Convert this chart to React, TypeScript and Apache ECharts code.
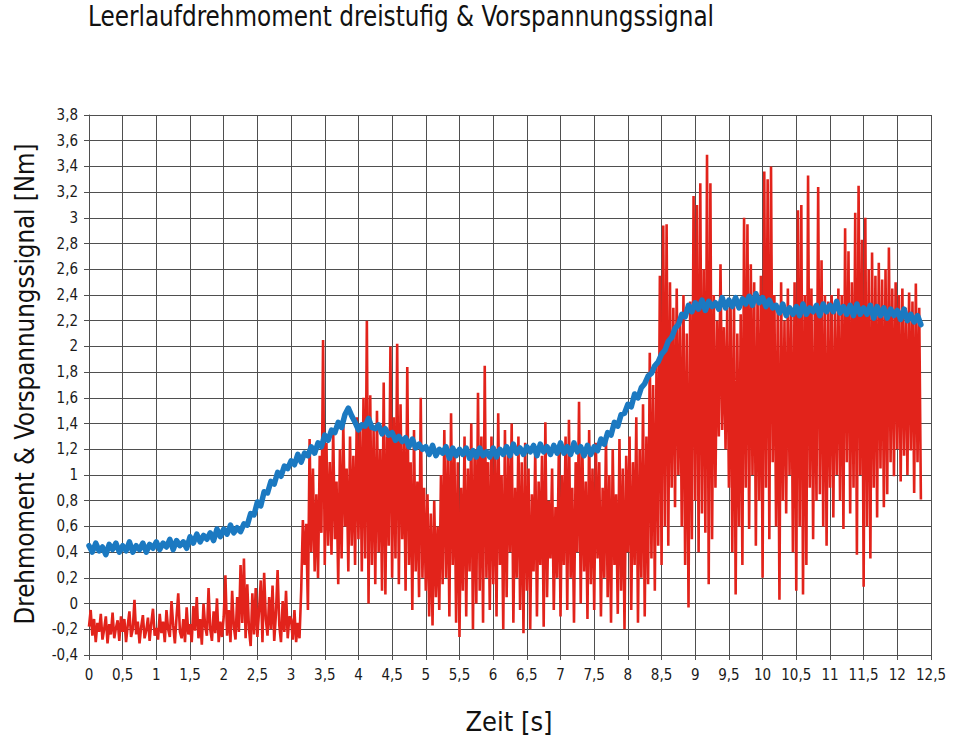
import React, { useEffect, useRef } from "react";
import * as echarts from "echarts";

const TITLE = "Leerlaufdrehmoment dreistufig & Vorspannungssignal";
const Y_NAME = "Drehmoment & Vorspannungssignal [Nm]";
const X_NAME = "Zeit [s]";

// sample spacing of the two recorded signals (seconds)
const RED_DT = 0.025;
const BLUE_DT = 0.05;

// Drehmoment (red), one value every 0.025 s
const redValues = [
  -0.18,-0.05,-0.25,-0.12,-0.3,-0.15,-0.22,-0.08,-0.28,-0.2,-0.1,-0.31,-0.16,-0.24,-0.07,-0.27,-0.19,-0.13,-0.29,-0.1,
  -0.22,-0.12,-0.3,-0.17,-0.06,-0.26,-0.2,0.03,-0.24,-0.14,-0.31,-0.18,-0.09,-0.27,-0.21,-0.11,-0.29,-0.15,-0.04,-0.25,
  -0.19,-0.28,-0.08,-0.23,-0.14,-0.3,-0.05,-0.2,-0.26,0.02,-0.17,-0.31,-0.1,0.08,-0.22,-0.27,-0.12,-0.3,-0.03,-0.24,
  -0.16,-0.3,-0.02,-0.21,0.05,-0.27,-0.12,-0.32,0.0,-0.18,-0.25,0.12,-0.2,-0.29,-0.06,-0.23,0.04,-0.3,-0.14,-0.26,
  -0.1,0.22,-0.25,-0.05,-0.3,0.1,-0.18,-0.28,0.05,-0.22,0.3,-0.15,0.35,-0.27,0.15,-0.2,-0.33,0.08,-0.24,0.12,
  -0.26,-0.05,0.18,-0.3,0.24,-0.12,-0.25,0.05,-0.2,0.14,-0.29,-0.08,0.26,-0.17,-0.3,0.02,-0.22,0.1,-0.27,-0.1,
  -0.12,-0.28,-0.05,-0.3,-0.15,-0.27,0.1,0.65,0.3,0.62,-0.05,1.28,0.4,1.05,0.25,0.85,0.2,1.15,0.55,2.05,
  0.3,1.25,0.45,1.1,0.38,1.35,0.5,0.95,0.15,1.2,0.35,1.4,0.6,1.05,0.25,1.3,0.45,1.15,0.3,1.45,
  0.5,1.4,0.25,1.6,0.35,2.2,0.0,1.62,0.3,1.35,0.15,1.5,0.4,1.2,0.1,1.72,0.07,1.3,0.45,2.0,
  0.2,1.45,0.35,2.02,0.15,1.55,0.5,1.25,0.1,1.84,0.3,1.1,-0.05,1.35,0.25,0.95,0.05,1.6,0.2,0.9,
  0.1,0.85,-0.1,0.7,-0.17,0.8,0.05,0.6,-0.05,1.0,0.15,1.35,0.2,1.15,-0.1,1.48,0.3,1.2,-0.15,1.1,
  -0.26,0.9,0.1,1.3,-0.1,1.05,0.25,1.4,-0.2,1.2,0.0,1.64,0.1,1.3,-0.15,1.85,0.2,1.1,-0.05,1.3,
  0.15,1.2,-0.1,1.48,0.3,1.0,-0.2,1.35,0.05,1.15,0.4,1.4,-0.15,0.9,0.2,1.3,-0.05,1.1,-0.23,1.25,
  0.1,1.05,-0.2,0.85,0.25,1.2,-0.1,0.95,0.3,1.15,-0.18,1.41,0.05,0.8,0.35,1.05,-0.05,0.75,0.2,1.2,
  -0.1,1.0,0.3,1.3,-0.05,1.43,0.2,0.9,-0.15,1.1,0.4,1.57,0.0,1.2,0.25,0.95,-0.12,1.35,0.15,1.05,
  -0.05,1.25,0.35,1.1,-0.1,0.9,0.2,1.3,0.05,1.0,-0.15,1.2,0.3,0.85,-0.08,1.28,0.1,1.05,-0.2,1.15,
  0.4,1.3,-0.05,1.1,0.3,1.45,-0.15,1.2,0.2,1.55,-0.1,1.3,0.15,1.95,0.35,1.7,0.1,1.85,0.45,2.55,
  0.3,2.94,0.6,2.95,0.45,2.5,0.9,2.3,0.75,2.45,1.0,2.2,0.6,2.4,0.3,2.1,-0.03,2.35,0.5,3.17,
  0.8,3.1,0.4,3.27,0.7,2.6,0.55,3.49,0.15,3.27,0.5,2.4,0.9,2.2,1.3,2.64,1.35,2.15,1.2,2.3,
  0.9,2.3,0.4,2.38,0.07,2.1,0.6,2.25,0.3,3.0,0.9,2.95,0.58,2.64,1.0,2.5,0.45,2.4,0.8,2.55,
  0.2,3.36,0.9,3.3,0.5,3.4,1.1,2.4,0.6,2.3,0.03,2.5,0.8,2.2,0.7,2.45,1.0,2.3,0.4,2.5,
  0.1,3.06,0.6,3.1,0.07,2.4,0.3,3.33,0.9,2.45,0.5,2.3,0.8,3.24,0.85,2.67,0.6,2.4,0.45,2.35,
  0.9,2.4,0.67,2.3,1.0,2.45,0.8,2.4,0.58,2.92,1.1,2.74,0.7,2.5,0.9,3.04,0.38,3.25,1.0,2.83,
  0.13,3.0,0.6,2.6,0.35,2.73,0.9,2.55,0.67,2.65,1.05,2.52,0.75,2.6,0.85,2.77,1.1,2.45,0.99,2.5,
  1.2,2.4,0.95,2.45,1.15,2.3,1.0,2.42,1.19,2.35,0.86,2.49,1.1,2.3,0.81,
];

// Vorspannungssignal (blue), one value every 0.05 s
const blueValues = [
  0.45,0.40,0.47,0.41,0.44,0.38,0.46,0.42,0.47,0.40,
  0.45,0.41,0.48,0.40,0.45,0.42,0.47,0.40,0.46,0.43,
  0.48,0.42,0.47,0.44,0.50,0.42,0.49,0.45,0.48,0.43,
  0.52,0.47,0.54,0.48,0.53,0.50,0.55,0.49,0.58,0.52,
  0.58,0.54,0.61,0.55,0.59,0.56,0.62,0.61,0.70,0.69,
  0.79,0.76,0.87,0.86,0.95,0.93,1.02,0.99,1.07,1.05,
  1.11,1.08,1.16,1.10,1.17,1.15,1.22,1.17,1.25,1.22,
  1.31,1.27,1.35,1.33,1.41,1.37,1.47,1.52,1.46,1.41,
  1.35,1.39,1.38,1.44,1.37,1.36,1.39,1.32,1.36,1.31,
  1.33,1.27,1.30,1.26,1.29,1.22,1.28,1.21,1.24,1.20,
  1.22,1.16,1.23,1.15,1.20,1.17,1.22,1.13,1.21,1.15,
  1.20,1.16,1.21,1.13,1.19,1.14,1.21,1.15,1.18,1.14,
  1.21,1.14,1.20,1.16,1.22,1.15,1.24,1.17,1.21,1.16,
  1.22,1.18,1.23,1.15,1.24,1.18,1.22,1.16,1.23,1.17,
  1.25,1.17,1.22,1.16,1.25,1.18,1.22,1.15,1.23,1.16,
  1.22,1.19,1.28,1.24,1.33,1.31,1.41,1.38,1.47,1.48,
  1.55,1.53,1.63,1.60,1.68,1.71,1.77,1.79,1.85,1.88,
  1.94,1.97,2.04,2.07,2.14,2.17,2.25,2.23,2.32,2.27,
  2.34,2.29,2.36,2.28,2.35,2.31,2.34,2.29,2.38,2.30,
  2.36,2.31,2.38,2.30,2.37,2.33,2.39,2.32,2.41,2.34,
  2.38,2.31,2.36,2.30,2.32,2.26,2.33,2.24,2.30,2.25,
  2.31,2.24,2.33,2.25,2.30,2.27,2.32,2.24,2.33,2.27,
  2.32,2.27,2.35,2.26,2.31,2.25,2.32,2.24,2.33,2.25,
  2.30,2.25,2.32,2.22,2.31,2.24,2.30,2.22,2.29,2.24,
  2.28,2.21,2.29,2.20,2.25,2.19,2.24,2.17,
];

const X_MIN = 0;
const X_MAX = 12.5;
const X_STEP = 0.5;
const Y_MIN = -0.4;
const Y_MAX = 3.8;
const Y_STEP = 0.2;

const FONT =
  "'Liberation Sans Narrow', 'DejaVu Sans Condensed', 'Roboto Condensed', 'Liberation Sans', Roboto, sans-serif";
const TEXT_COLOR = "#1a1a1a";
const GRID_COLOR = "#4f4f4f";
const RED = "#e2231b";
const BLUE = "#1b79c1";

const fmt = (v: number) => {
  const r = Math.round(v * 10) / 10;
  return String(r).replace(".", ",");
};

function buildOption() {
  const redData = redValues.map((v, i) => [+(i * RED_DT).toFixed(3), v]);
  const blueData = blueValues.map((v, i) => [+(i * BLUE_DT).toFixed(3), v]);
  const axisLabel = { fontSize: 15, color: TEXT_COLOR, fontFamily: FONT, formatter: fmt };
  return {
    animation: false,
    backgroundColor: "#ffffff",
    grid: { left: 89, right: 29, top: 115, bottom: 90, containLabel: false },
    xAxis: {
      type: "value",
      min: X_MIN,
      max: X_MAX,
      interval: X_STEP,
      axisLine: { show: true, onZero: false, lineStyle: { color: GRID_COLOR, width: 1 } },
      axisTick: { show: true, length: 5, lineStyle: { color: GRID_COLOR, width: 1 } },
      axisLabel: { ...axisLabel, margin: 12 },
      splitLine: { show: true, lineStyle: { color: GRID_COLOR, width: 1 } },
    },
    yAxis: {
      type: "value",
      min: Y_MIN,
      max: Y_MAX,
      interval: Y_STEP,
      axisLine: { show: true, onZero: false, lineStyle: { color: GRID_COLOR, width: 1 } },
      axisTick: { show: true, length: 5, lineStyle: { color: GRID_COLOR, width: 1 } },
      axisLabel: { ...axisLabel, margin: 11 },
      splitLine: { show: true, lineStyle: { color: GRID_COLOR, width: 1 } },
    },
    series: [
      {
        type: "line",
        data: redData,
        symbol: "none",
        showSymbol: false,
        silent: true,
        z: 2,
        lineStyle: { color: RED, width: 2.6, join: "bevel" },
      },
      {
        type: "line",
        data: blueData,
        symbol: "none",
        showSymbol: false,
        silent: true,
        z: 3,
        lineStyle: { color: BLUE, width: 5.5, join: "round", cap: "round" },
      },
    ],
    graphic: [
      {
        type: "text",
        x: 88,
        y: 16,
        scaleX: 0.92,
        style: {
          text: TITLE,
          fontSize: 28,
          fontFamily: FONT,
          fill: "#111111",
          align: "left",
          verticalAlign: "middle",
          textAlign: "left",
          textVerticalAlign: "middle",
        },
      },
      {
        type: "text",
        x: 25,
        y: 384,
        rotation: Math.PI / 2,
        scaleX: 0.985,
        style: {
          text: Y_NAME,
          fontSize: 26,
          fontFamily: FONT,
          fill: "#111111",
          align: "center",
          verticalAlign: "middle",
          textAlign: "center",
          textVerticalAlign: "middle",
        },
      },
      {
        type: "text",
        x: 509,
        y: 721,
        style: {
          text: X_NAME,
          fontSize: 27,
          fontFamily: FONT,
          fill: "#111111",
          align: "center",
          verticalAlign: "middle",
          textAlign: "center",
          textVerticalAlign: "middle",
        },
      },
    ],
  };
}

export default function App() {
  const ref = useRef<HTMLDivElement>(null);
  useEffect(() => {
    if (!ref.current) return;
    const chart = echarts.init(ref.current, null, { renderer: "svg" });
    chart.setOption(buildOption() as any);
    return () => chart.dispose();
  }, []);
  return (
    <div
      ref={ref}
      style={{ position: "fixed", left: 0, top: 0, width: 960, height: 745, background: "#fff" }}
    />
  );
}
